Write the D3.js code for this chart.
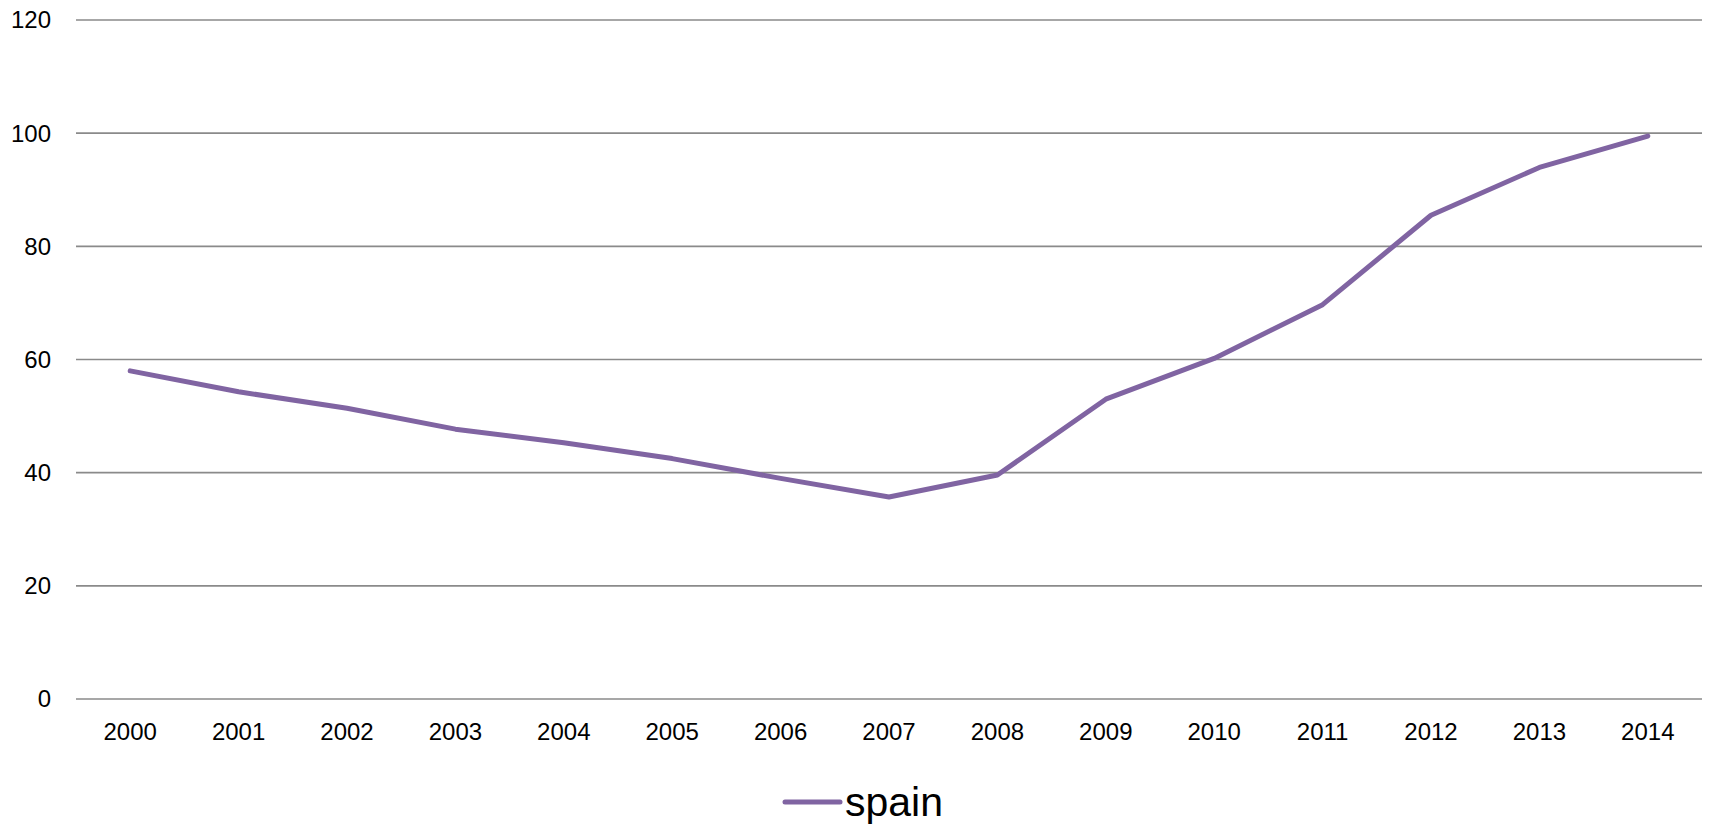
<!DOCTYPE html>
<html>
<head>
<meta charset="utf-8">
<script src="https://cdn.jsdelivr.net/npm/d3@7/dist/d3.min.js"></script>
<style>
  body { margin: 0; background: #fff; }
  text { font-family: "Liberation Sans", Arial, sans-serif; fill: #000; }
</style>
</head>
<body>
<svg></svg>
<script>
let years = ['2000','2001','2002','2003','2004','2005','2006','2007','2008','2009','2010','2011','2012','2013','2014'];
let spain = [57.9, 54.2, 51.3, 47.6, 45.2, 42.4, 38.9, 35.6, 39.5, 52.9, 60.1, 69.6, 85.4, 93.85, 99.4];
let yTicks = [0, 20, 40, 60, 80, 100, 120];
let seriesName = 'spain';

let width = 1709, height = 827;
let plotLeft = 76, plotRight = 1702, plotTop = 19.5, plotBottom = 698.5;

let svg = d3.select('svg')
              .attr('width', width)
              .attr('height', height);

let x = d3.scaleBand()
          .domain(years)
          .range([plotLeft, plotRight]);

let y = d3.scaleLinear()
          .domain([0, 120])
          .range([plotBottom, plotTop]);

// gridlines + y labels
let yAxis = svg.append('g')
                .attr('transform', `translate(${plotLeft},0)`)
                .call(d3.axisLeft(y).tickValues(yTicks).tickSize(-(plotRight-plotLeft)).tickPadding(25));
yAxis.select('.domain').remove();
yAxis.selectAll('line')
      .attr('stroke', '#8a8a8a')
      .attr('stroke-width', 1.6);
yAxis.selectAll('text')
      .style('font-size', '24px')
      .attr('dy', '0.35em');

// x labels
let xAxis = svg.append('g')
                .attr('transform', `translate(0,${plotBottom})`)
                .call(d3.axisBottom(x).tickSize(0).tickPadding(24));
xAxis.select('.domain').remove();
xAxis.selectAll('text')
      .style('font-size', '24px')
      .attr('dy', '0.71em');

let line = d3.line()
              .x((d, i) => x(years[i]) + x.bandwidth()/2)
              .y(d => y(d));

svg.append('path')
    .datum(spain)
    .attr('d', line)
    .attr('fill', 'none')
    .attr('stroke', '#8064A2')
    .attr('stroke-width', 5)
    .attr('stroke-linejoin', 'round')
    .attr('stroke-linecap', 'round');

// legend
let legend = svg.append('g').attr('transform', 'translate(785,802)');
legend.append('line')
      .attr('x1', 0).attr('x2', 55)
      .attr('stroke', '#8064A2')
      .attr('stroke-width', 5)
      .attr('stroke-linecap', 'round');
legend.append('text')
      .attr('x', 60)
      .attr('y', 14)
      .style('font-size', '41px')
      .text(seriesName);
</script>
</body>
</html>
